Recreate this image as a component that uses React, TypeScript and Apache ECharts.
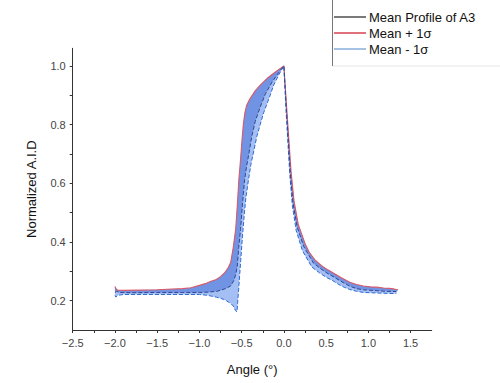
import React, { useEffect, useRef } from "react";
import * as echarts from "echarts";

const upperSeries: number[][] = [
  [-2.0, 0.248], [-1.99, 0.242], [-1.97, 0.236], [-1.9, 0.235], [-1.7, 0.236], [-1.5, 0.237],
  [-1.38, 0.239], [-1.2, 0.241], [-1.1, 0.244], [-1.0, 0.252], [-0.93, 0.258], [-0.87, 0.265],
  [-0.8, 0.272], [-0.75, 0.282], [-0.7, 0.295], [-0.66, 0.312], [-0.63, 0.33], [-0.6, 0.38],
  [-0.57, 0.445], [-0.55, 0.53], [-0.533, 0.613], [-0.513, 0.681], [-0.495, 0.75], [-0.48, 0.8],
  [-0.462, 0.84], [-0.44, 0.866], [-0.405, 0.886], [-0.34, 0.915], [-0.277, 0.935], [-0.2, 0.957],
  [-0.12, 0.975], [-0.05, 0.99], [0, 1.0], [0.035, 0.85], [0.085, 0.64], [0.12, 0.54], [0.17, 0.46],
  [0.25, 0.395], [0.3, 0.365], [0.37, 0.338], [0.45, 0.318], [0.52, 0.305], [0.6, 0.292],
  [0.68, 0.278], [0.78, 0.263], [0.86, 0.255], [0.94, 0.25], [1.02, 0.247], [1.1, 0.246],
  [1.18, 0.243], [1.25, 0.242], [1.3, 0.24], [1.35, 0.237],
];

const meanSeries: number[][] = [
  [-2.0, 0.228], [-1.98, 0.232], [-1.95, 0.228], [-1.8, 0.227], [-1.5, 0.228], [-1.2, 0.228],
  [-1.0, 0.228], [-0.9, 0.229], [-0.79, 0.232], [-0.7, 0.24], [-0.63, 0.25], [-0.59, 0.27],
  [-0.57, 0.29], [-0.552, 0.316], [-0.535, 0.38], [-0.513, 0.442], [-0.49, 0.53], [-0.465, 0.613],
  [-0.44, 0.66], [-0.415, 0.7], [-0.38, 0.76], [-0.34, 0.81], [-0.28, 0.86], [-0.218, 0.905],
  [-0.14, 0.945], [-0.06, 0.978], [0, 1.0], [0.03, 0.85], [0.077, 0.63], [0.108, 0.533],
  [0.155, 0.453], [0.234, 0.385], [0.35, 0.328], [0.43, 0.31], [0.51, 0.294], [0.6, 0.279],
  [0.7, 0.262], [0.784, 0.249], [0.86, 0.241], [0.94, 0.237], [1.1, 0.234], [1.2, 0.232],
  [1.33, 0.231],
];

const lowerSeries: number[][] = [
  [-2.0, 0.218], [-1.99, 0.212], [-1.97, 0.218], [-1.9, 0.221], [-1.6, 0.221], [-1.3, 0.221],
  [-1.0, 0.221], [-0.9, 0.218], [-0.8, 0.212], [-0.75, 0.208], [-0.7, 0.203], [-0.63, 0.191],
  [-0.6, 0.182], [-0.572, 0.166], [-0.555, 0.162], [-0.53, 0.26], [-0.51, 0.34], [-0.49, 0.42],
  [-0.47, 0.49], [-0.45, 0.55], [-0.42, 0.61], [-0.39, 0.665], [-0.356, 0.71], [-0.32, 0.76],
  [-0.28, 0.8], [-0.24, 0.84], [-0.18, 0.886], [-0.12, 0.935], [-0.06, 0.97], [0, 1.0],
  [0.025, 0.85], [0.07, 0.63], [0.1, 0.525], [0.145, 0.44], [0.22, 0.37], [0.33, 0.315],
  [0.42, 0.295], [0.5, 0.28], [0.58, 0.268], [0.65, 0.255], [0.72, 0.245], [0.78, 0.238],
  [0.86, 0.232], [0.94, 0.228], [1.1, 0.226], [1.2, 0.225], [1.33, 0.224],
];

const legendNames = ["Mean Profile of A3", "Mean + 1\u03c3", "Mean - 1\u03c3"];
const xTitle = "Angle (\u00b0)";
const yTitle = "Normalized A.I.D";

const FONT = "'Liberation Sans', Arial, sans-serif";

export default function App() {
  const ref = useRef<HTMLDivElement>(null);
  useEffect(() => {
    if (!ref.current) return;
    const chart = echarts.init(ref.current, null, { renderer: "svg" });

    const band = (top: number[][], bottom: number[][], fill: string) =>
      (params: any, api: any) => {
        const pts = [
          ...top.map((p) => api.coord(p)),
          ...bottom.slice().reverse().map((p) => api.coord(p)),
        ];
        return { type: "polygon", shape: { points: pts }, style: { fill, stroke: "none" } };
      };

    const legendRows = [
      { color: "#222222", width: 1.2, y: 17 },
      { color: "#e0707c", width: 2, y: 33 },
      { color: "#4a86c8", width: 1, y: 49 },
    ];

    const graphic: any[] = [
      { type: "rect", shape: { x: 332.5, y: -1, width: 170, height: 67 }, style: { fill: "#fff", stroke: "#e6e6e6", lineWidth: 1 } },
      { type: "line", shape: { x1: 332.5, y1: 0, x2: 332.5, y2: 66 }, style: { stroke: "#777", lineWidth: 1 } },
    ];
    legendRows.forEach((r, i) => {
      graphic.push({ type: "line", shape: { x1: 334, y1: r.y, x2: 366, y2: r.y }, style: { stroke: r.color, lineWidth: r.width } });
      graphic.push({
        type: "text", x: 369, y: r.y,
        style: { text: legendNames[i], fontSize: 13, fontFamily: FONT, fill: "#111", verticalAlign: "middle", align: "left" },
      });
    });

    chart.setOption({
      animation: false,
      backgroundColor: "#fff",
      grid: { left: 72.7, right: 68.3, top: 48.3, bottom: 53, containLabel: false },
      xAxis: {
        type: "value", min: -2.5, max: 1.75, interval: 0.25,
        name: xTitle, nameLocation: "middle", nameGap: 33,
        nameTextStyle: { fontSize: 13, fontFamily: FONT, color: "#111" },
        axisLine: { show: true, onZero: false, lineStyle: { color: "#333", width: 1 } },
        axisTick: { show: true, length: 3, lineStyle: { color: "#333" } },
        splitLine: { show: false },
        axisLabel: {
          fontSize: 11, fontFamily: FONT, color: "#444", margin: 7,
          showMaxLabel: false,
          formatter: (v: number) => {
            const k = Math.round(v * 4);
            if (Math.abs(k) % 2 !== 0) return "";
            return v < 0 ? "\u2212" + Math.abs(v).toFixed(1) : v.toFixed(1);
          },
        },
      },
      yAxis: {
        type: "value", min: 0.1, max: 1.06, interval: 0.1,
        name: yTitle, nameLocation: "middle", nameGap: 35, nameRotate: 90,
        nameTextStyle: { fontSize: 13, fontFamily: FONT, color: "#111" },
        axisLine: { show: true, onZero: false, lineStyle: { color: "#333", width: 1 } },
        axisTick: { show: true, length: 3, lineStyle: { color: "#333" } },
        splitLine: { show: false },
        axisLabel: {
          fontSize: 11, fontFamily: FONT, color: "#444", margin: 7,
          showMaxLabel: false, showMinLabel: false,
          formatter: (v: number) => {
            const k = Math.round(v * 10);
            if (k % 2 !== 0 || v > 1.01) return "";
            return v.toFixed(1);
          },
        },
      },
      graphic,
      series: [
        {
          type: "custom", name: "band-lower", data: [[0, 0.5]], silent: true, z: 1,
          renderItem: band(upperSeries, lowerSeries, "#a3bff3"),
        },
        {
          type: "custom", name: "band-upper", data: [[0, 0.5]], silent: true, z: 2,
          renderItem: band(upperSeries, meanSeries, "#7093e3"),
        },
        {
          type: "line", name: legendNames[1], data: upperSeries, showSymbol: false, z: 4,
          lineStyle: { color: "#d95a68", width: 1.1 },
        },
        {
          type: "line", name: legendNames[2], data: lowerSeries, showSymbol: false, z: 4,
          lineStyle: { color: "#2f6ad6", width: 1, type: [4, 2] },
        },
        {
          type: "line", name: legendNames[0], data: meanSeries, showSymbol: false, z: 5,
          lineStyle: { color: "#34468f", width: 1, type: [4, 2] },
        },
      ],
    });
    return () => chart.dispose();
  }, []);
  return (
    <div
      ref={ref}
      style={{ position: "fixed", left: 0, top: 0, width: 500, height: 383 }}
    />
  );
}
